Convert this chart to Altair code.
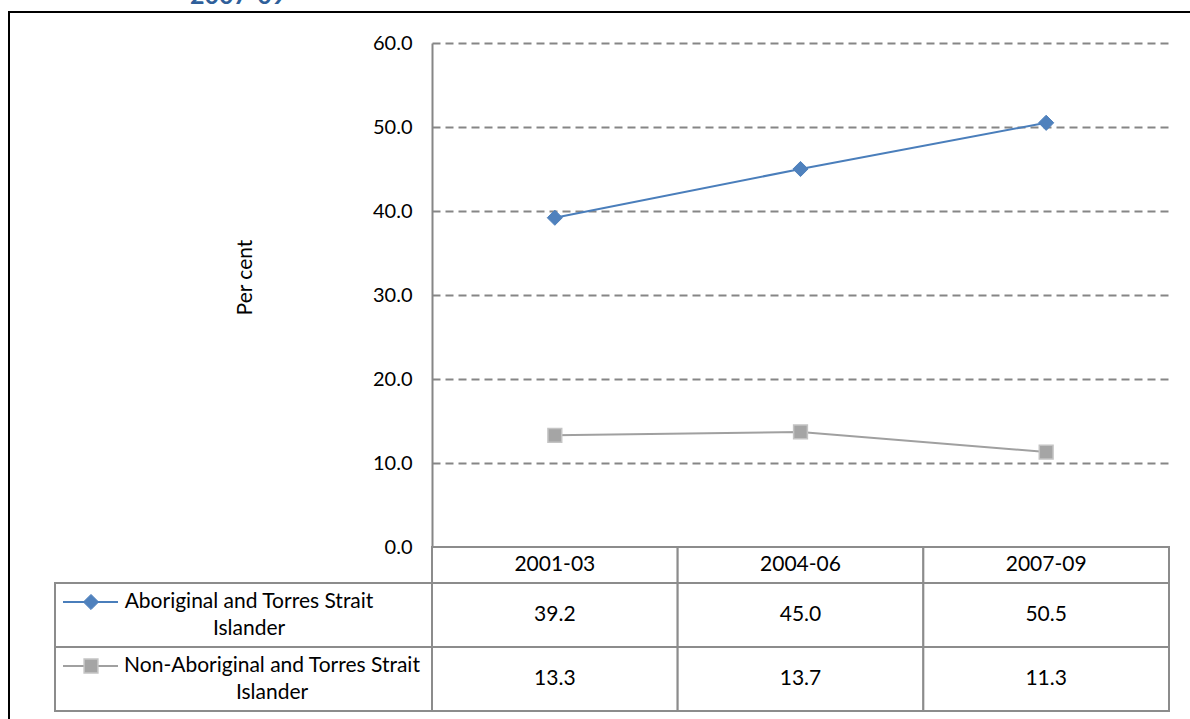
import altair as alt
import pandas as pd

# ---- data -----------------------------------------------------------------
periods = ["2001-03", "2004-06", "2007-09"]
aboriginal = [39.2, 45.0, 50.5]
non_aboriginal = [13.3, 13.7, 11.3]
series_labels = [
    "Aboriginal and Torres Strait\nIslander",
    "Non-Aboriginal and Torres Strait\nIslander",
]
y_ticks = [0, 10, 20, 30, 40, 50, 60]
title_tail = "2007-09"

# ---- styling --------------------------------------------------------------
FONT = "Lato"
FS = 21
AXIS_FS = 20
BLUE_LINE, BLUE_FILL = "#4A7EBB", "#4F81BD"
GREY_LINE, GREY_FILL, GREY_EDGE = "#A0A0A0", "#A5A5A5", "#C4C4C4"
TABLE = "#8C8C8C"
GRID = "#868686"

W, H = 737, 504          # plot area
PAD = {"left": 432, "top": 43, "right": 21, "bottom": 172}

# table geometry (pixels relative to the plot area's top-left corner)
HEAD_TOP, HEAD_BOT = H, H + 36
ROW_EDGES = [(H + 36, H + 100), (H + 100, H + 164)]
LEFT_COL = -377
LABEL_X = [-183, -160]   # centre of each wrapped series label

abor_df = pd.DataFrame({"period": periods, "value": aboriginal,
                        "label": [series_labels[0]] * 3})
non_df = pd.DataFrame({"period": periods, "value": non_aboriginal,
                       "label": [series_labels[1]] * 3})
head_df = pd.DataFrame({"period": periods})

x_scale = alt.Scale(domain=periods, paddingInner=0, paddingOuter=0)
X = alt.X("period:N", scale=x_scale, sort=periods, axis=None)
Y = alt.Y(
    "value:Q",
    scale=alt.Scale(domain=[0, 60], nice=False, zero=True),
    axis=alt.Axis(
        values=y_ticks, format=".1f", grid=True, gridDash=[8, 5],
        gridColor=GRID, gridWidth=2, domainColor=GRID, domainWidth=2,
        ticks=False, tickSize=0, labelPadding=20, labelFont=FONT,
        labelFontSize=AXIS_FS, labelColor="black",
        title="Per cent", titleFont=FONT, titleFontSize=FS,
        titleFontWeight="normal", titleColor="black", titleAngle=270,
        titleX=-187, titleY=234, titleAlign="center", titleBaseline="middle",
    ),
)

# outer frame of the figure
frame = alt.Chart(head_df.head(1)).mark_rect(
    filled=False, stroke="black", strokeWidth=2
).encode(
    x=alt.value(-423), x2=alt.value(W + 200),
    y=alt.value(-31), y2=alt.value(H + 300),
)

# title remnant above the frame
title = alt.Chart(pd.DataFrame({"t": [title_tail]})).mark_text(
    font=FONT, fontSize=25, fontWeight="bold", color="#2F5F9A",
    align="left", baseline="alphabetic"
).encode(x=alt.value(-242), y=alt.value(-39), text="t:N")

# data table: header row
head_cells = alt.Chart(head_df).mark_rect(
    fill="white", stroke=TABLE, strokeWidth=2
).encode(x=X, y=alt.value(HEAD_TOP), y2=alt.value(HEAD_BOT))
head_text = alt.Chart(head_df).mark_text(
    font=FONT, fontSize=FS, color="black"
).encode(x=X, y=alt.value((HEAD_TOP + HEAD_BOT) / 2), text="period:N")

layers = [frame, title, head_cells, head_text]

series_styles = [
    (abor_df, BLUE_LINE, dict(shape="diamond", size=230, fill=BLUE_FILL,
                              stroke=BLUE_FILL, strokeWidth=1)),
    (non_df, GREY_LINE, dict(shape="square", size=190, fill=GREY_FILL,
                             stroke=GREY_EDGE, strokeWidth=1.5)),
]

for (df, line_col, sym), (top, bot), lx in zip(series_styles, ROW_EDGES, LABEL_X):
    mid = (top + bot) / 2
    first_line = top + 19
    key_df = df.head(1)
    layers += [
        # value cells
        alt.Chart(df).mark_rect(fill="white", stroke=TABLE, strokeWidth=2)
        .encode(x=X, y=alt.value(top), y2=alt.value(bot)),
        alt.Chart(df).mark_text(font=FONT, fontSize=FS, color="black")
        .encode(x=X, y=alt.value(mid), text=alt.Text("value:Q", format=".1f")),
        # legend cell
        alt.Chart(key_df).mark_rect(fill="white", stroke=TABLE, strokeWidth=2)
        .encode(x=alt.value(LEFT_COL), x2=alt.value(0),
                y=alt.value(top), y2=alt.value(bot)),
        alt.Chart(key_df).mark_rule(color=line_col, strokeWidth=2)
        .encode(x=alt.value(-369), x2=alt.value(-314),
                y=alt.value(first_line), y2=alt.value(first_line)),
        alt.Chart(key_df).mark_point(filled=True, opacity=1, **sym)
        .encode(x=alt.value(-341), y=alt.value(first_line)),
        alt.Chart(key_df).mark_text(
            font=FONT, fontSize=FS, color="black", align="center",
            baseline="middle", lineBreak="\n", lineHeight=27
        ).encode(x=alt.value(lx), y=alt.value(first_line), text="label:N"),
    ]

# series lines and markers (drawn last, on top of the grid)
for df, line_col, sym in series_styles:
    layers += [
        alt.Chart(df).mark_line(color=line_col, strokeWidth=2).encode(x=X, y=Y),
        alt.Chart(df).mark_point(filled=True, opacity=1, **sym).encode(x=X, y=Y),
    ]

chart = alt.layer(*layers).properties(
    width=W, height=H, padding=PAD, background="white",
    autosize=alt.AutoSizeParams(type="none"),
).configure_view(stroke=None)

chart.save("out.html", embed_options={"renderer": "svg", "actions": False})
